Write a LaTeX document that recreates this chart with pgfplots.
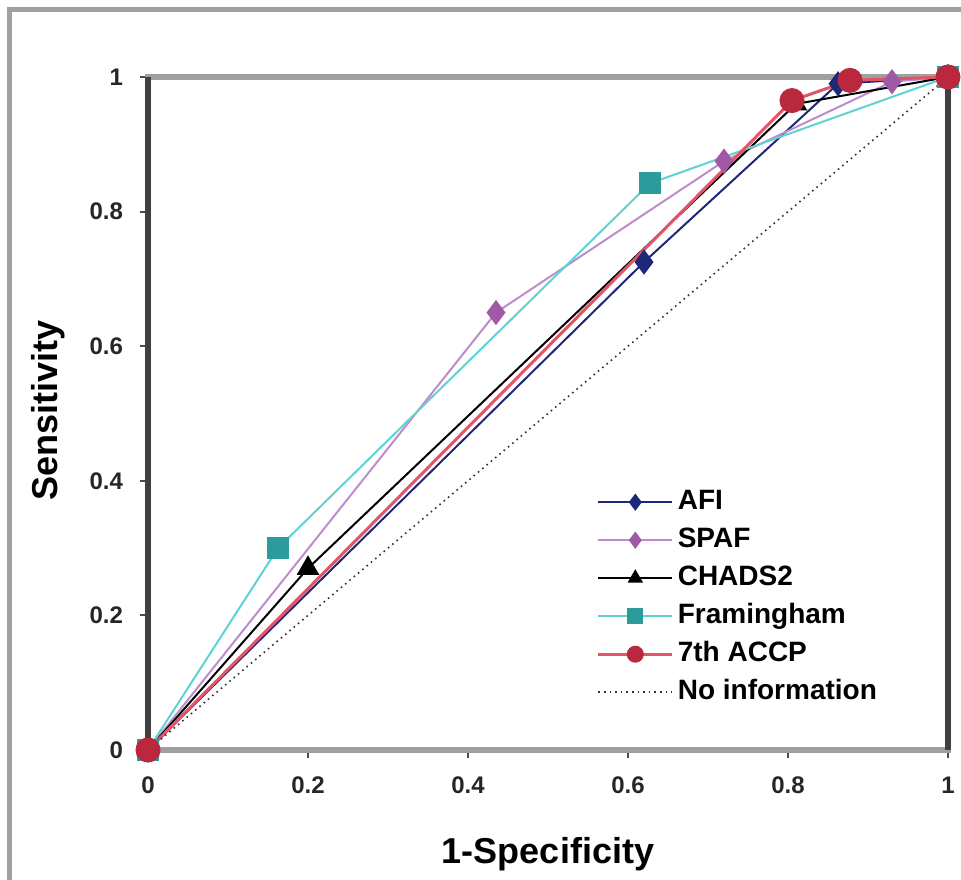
\documentclass[border=0pt]{standalone}
\usepackage{fontspec}
\setmainfont{Liberation Sans}
\usepackage{pgfplots}
\pgfplotsset{compat=1.18}
\definecolor{afi}{RGB}{30,40,120}
\definecolor{spafl}{RGB}{190,140,205}
\definecolor{spafm}{RGB}{160,90,165}
\definecolor{framl}{RGB}{95,210,210}
\definecolor{framm}{RGB}{45,155,155}
\definecolor{accpl}{RGB}{225,85,105}
\definecolor{accpm}{RGB}{185,40,60}
\definecolor{framegray}{RGB}{160,160,160}
\begin{document}
\begin{tikzpicture}
\path[use as bounding box] (-74pt,-64.5pt) rectangle (406.5pt,375pt);
\begin{axis}[
  at={(0,0)}, anchor=south west,
  scale only axis, width=400pt, height=336.5pt,
  xmin=0, xmax=1, ymin=0, ymax=1,
  clip=false,
  axis line style={line width=3pt, framegray},
  xtick={0,0.2,0.4,0.6,0.8,1},
  ytick={0,0.2,0.4,0.6,0.8,1},
  xtick pos=bottom, ytick pos=left,
  tick align=outside,
  major tick length=4pt,
  tick style={black!70, line width=1pt},
  /pgf/number format/assume math mode=true,
  tick label style={font=\fontsize{12}{14}\selectfont\bfseries, text=black!85},
  xticklabel style={yshift=-6pt},
  yticklabel style={xshift=-5pt},
  xlabel={1-Specificity},
  ylabel={Sensitivity},
  label style={font=\fontsize{18}{20}\selectfont\bfseries},
  x label style={at={(axis description cs:0.5,0)}, anchor=center, yshift=-52pt},
  y label style={at={(axis description cs:0,0.505)}, anchor=center, yshift=50pt},
  legend style={at={(axis cs:0.553,0.40)}, anchor=north west, draw=none, fill=none,
    font=\fontsize{14}{16}\selectfont\bfseries,
    nodes={text height=10pt, text depth=3pt, inner sep=2pt, anchor=west},
    row sep=2pt},
  legend cell align=left,
  legend image code/.code={\draw[mark repeat=2,mark phase=2,#1, mark size=3.5pt] plot coordinates {(0pt,0pt)(18.5pt,0pt)(37pt,0pt)};},
]
\draw[line width=3pt, black!75] (axis cs:0,0) -- (axis cs:0,1);
\draw[line width=3pt, black!75] (axis cs:1,0) -- (axis cs:1,1);
\addplot[afi, line width=1pt, mark=diamond*, mark size=5.5pt, mark options={fill=afi, draw=afi}]
  coordinates {(0,0) (0.62,0.725) (0.8625,0.99) (1,1)};
\addlegendentry{AFI}
\addplot[spafl, line width=1pt, mark=diamond*, mark size=5.5pt, mark options={fill=spafm, draw=spafm}]
  coordinates {(0,0) (0.435,0.65) (0.72,0.875) (0.93,0.993) (1,1)};
\addlegendentry{SPAF}
\addplot[black, line width=1pt, mark=triangle*, mark size=5.5pt, mark options={fill=black}]
  coordinates {(0,0) (0.2,0.27) (0.81,0.96) (1,1)};
\addlegendentry{CHADS2}
\addplot[framl, line width=1pt, mark=square*, mark size=5pt, mark options={fill=framm, draw=framm}]
  coordinates {(0,0) (0.1625,0.30) (0.6275,0.842) (1,1)};
\addlegendentry{Framingham}
\addplot[accpl, line width=1.5pt, mark=*, mark size=5.5pt, mark options={fill=accpm, draw=accpm}]
  coordinates {(0,0) (0.805,0.965) (0.8775,0.995) (1,1)};
\addlegendentry{7th ACCP}
\addplot[black!80, line width=0.8pt, dotted, mark=none]
  coordinates {(0,0) (1,1)};
\addlegendentry{No information}
\end{axis}
\draw[line width=2.5pt, framegray] (-69pt,-80pt) -- (-69pt,370pt) -- (420pt,370pt);
\end{tikzpicture}
\end{document}
